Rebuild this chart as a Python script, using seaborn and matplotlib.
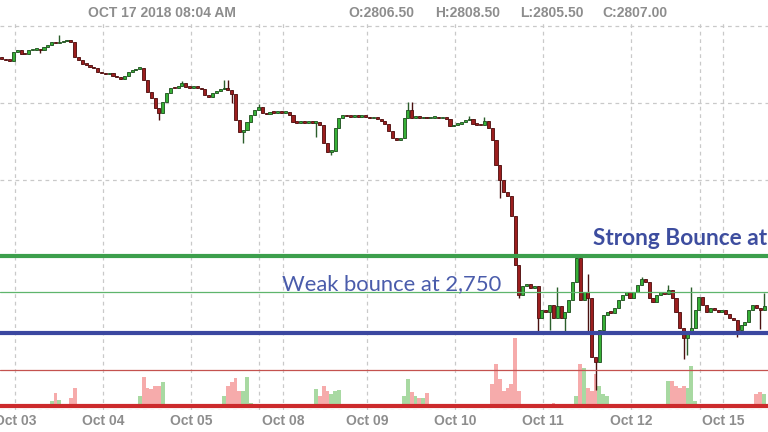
import numpy as np
import pandas as pd
import matplotlib
matplotlib.use("Agg")
import matplotlib.pyplot as plt
import seaborn as sns

# ---------------- data ----------------
header_date = "OCT 17 2018 08:04 AM"
ohlc_labels = ["O:2806.50", "H:2808.50", "L:2805.50", "C:2807.00"]

first_open = 2930.0
closes = [
    2928.5, 2927.8, 2927.2, 2933.0, 2934.3, 2931.7, 2931.5, 2934.3, 2934.5, 2935.0,
    2934.3, 2936.3, 2937.6, 2939.5, 2938.9, 2939.5, 2940.2, 2940.8, 2939.5, 2929.8,
    2927.8, 2925.2, 2924.6, 2923.3, 2922.6, 2920.0, 2919.3, 2918.7, 2919.3, 2917.4,
    2916.7, 2915.4, 2917.4, 2920.0, 2921.3, 2922.0, 2922.6, 2914.8, 2907.0, 2903.1,
    2896.5, 2893.3, 2900.5, 2906.3, 2909.6, 2909.3, 2910.9, 2912.8, 2910.2, 2909.6,
    2910.2, 2909.6, 2908.9, 2905.0, 2903.7, 2906.3, 2907.6, 2908.9, 2909.6, 2908.3,
    2905.7, 2888.7, 2880.9, 2882.2, 2887.4, 2892.0, 2895.2, 2897.2, 2893.3, 2892.6,
    2893.9, 2893.3, 2893.9, 2893.3, 2893.9, 2892.0, 2887.4, 2886.8, 2888.1, 2886.8,
    2887.4, 2886.8, 2887.4, 2885.5, 2873.7, 2867.9, 2868.5, 2883.5, 2890.0, 2892.0,
    2891.3, 2891.0, 2892.0, 2890.7, 2891.3, 2890.7, 2890.0, 2890.3, 2889.4, 2888.1,
    2886.1, 2881.6, 2877.0, 2875.7, 2877.0, 2890.0, 2895.2, 2890.0, 2891.3, 2890.0,
    2890.7, 2890.0, 2890.3, 2890.7, 2890.0, 2890.3, 2889.4, 2884.8, 2885.5, 2886.1,
    2887.4, 2888.7, 2889.4, 2886.1, 2885.5, 2885.3, 2888.1, 2883.5, 2875.7, 2859.4,
    2849.6, 2841.8, 2839.2, 2826.2, 2794.3, 2774.7, 2780.6, 2781.9, 2779.3, 2780.6,
    2759.7, 2764.9, 2763.6, 2768.2, 2759.7, 2767.5, 2759.7, 2763.6, 2771.5, 2783.2,
    2798.8, 2771.5, 2776.7, 2772.8, 2734.3, 2731.1, 2751.9, 2761.7, 2763.6, 2763.3,
    2766.2, 2771.5, 2774.7, 2776.7, 2772.8, 2776.7, 2781.2, 2785.1, 2783.2, 2772.8,
    2770.2, 2774.7, 2776.7, 2775.4, 2778.0, 2772.8, 2763.6, 2753.2, 2746.7, 2750.6,
    2753.2, 2764.9, 2773.4, 2768.2, 2763.6, 2766.2, 2764.9, 2763.6, 2764.9, 2762.3,
    2759.7, 2758.4, 2751.9, 2755.2, 2757.1, 2764.9, 2768.2, 2766.2, 2764.9, 2767.5,
]
# bars whose wick reaches beyond the body
high_wicks = {15: 2944.1, 47: 2914.1, 58: 2914.8, 59: 2914.8, 67: 2899.1,
              106: 2900.5, 107: 2900.5, 122: 2891.3, 126: 2890.7, 145: 2779.9,
              150: 2800.1, 153: 2788.4, 167: 2786.4, 174: 2781.2, 180: 2779.9,
              199: 2776.0}
low_wicks = {10: 2932.4, 41: 2888.7, 60: 2899.8, 63: 2873.7, 82: 2877.6,
             86: 2865.9, 130: 2837.9, 135: 2772.8, 140: 2751.3, 143: 2751.9,
             147: 2749.3, 153: 2751.3, 155: 2712.8, 178: 2733.0, 179: 2735.6,
             192: 2747.3, 198: 2752.6}
# volume (relative units) for bars that traded visibly
volumes = {13: 5, 14: 13, 15: 6, 16: 2, 17: 2, 18: 8, 19: 18, 20: 2,
           36: 10, 37: 29, 38: 18, 39: 17, 40: 20, 41: 20, 42: 24, 43: 2,
           58: 10, 59: 20, 60: 24, 61: 28, 62: 15, 63: 15, 64: 29, 65: 3,
           82: 17, 83: 10, 84: 20, 85: 15, 86: 12, 87: 15, 88: 16, 89: 2,
           105: 10, 106: 27, 107: 14, 108: 10, 109: 8, 110: 8, 111: 13,
           128: 22, 129: 42, 130: 27, 131: 15, 132: 18, 133: 22, 134: 68, 135: 15,
           144: 3,
           150: 10, 151: 42, 152: 38, 153: 18, 154: 15, 155: 32, 156: 20, 157: 12, 158: 10,
           174: 25, 175: 25, 176: 20, 177: 18, 178: 20, 179: 18, 180: 40, 181: 5,
           197: 12, 198: 14, 199: 12}

day_labels = ["Oct 03", "Oct 04", "Oct 05", "Oct 08", "Oct 09",
              "Oct 10", "Oct 11", "Oct 12", "Oct 15"]
level_prices = [2800.0, 2776.5, 2750.0, 2726.0, 2702.5]
strong_text = "Strong Bounce at"
weak_text = "Weak bounce at 2,750"

# ---------------- layout / style ----------------
day_pos = [3.4, 26.4, 49.4, 73.4, 95.3, 118.3, 141.3, 164.3, 188.3]
session_breaks = [67.1, 182.3]
level_colors = ["#3c9f4c", "#5fb56c", "#3b47a0", "#c4524f", "#cc2a2c"]
level_widths = [3.0, 0.9, 3.0, 0.9, 3.0]
GRAY = "#8d8d8d"

sns.set_theme(style="white")
plt.rcParams["font.family"] = ["Liberation Sans", "DejaVu Sans"]

W, H = 768, 432
fig = plt.figure(figsize=(W / 100, H / 100), dpi=100)
fig.patch.set_facecolor("white")
ax_bottom_px, ax_top_px = 410, 20
rect = [0, (H - ax_bottom_px) / H, 1, (ax_bottom_px - ax_top_px) / H]
ax = fig.add_axes(rect)
axv = ax.twinx()

n = len(closes)
idx = np.arange(n)
opens = [first_open] + closes[:-1]
up = [c >= o for o, c in zip(opens, closes)]
highs = [max(o, c, high_wicks.get(i, -np.inf)) for i, (o, c) in enumerate(zip(opens, closes))]
lows = [min(o, c, low_wicks.get(i, np.inf)) for i, (o, c) in enumerate(zip(opens, closes))]

# volume on twin axis (behind price axis)
vdf = pd.DataFrame({"bar": list(volumes.keys()), "volume": list(volumes.values())})
vdf["dir"] = ["up" if up[b] else "down" for b in vdf["bar"]]
sns.barplot(data=vdf, x="bar", y="volume", hue="dir", native_scale=True,
            palette={"up": "#a8d9a2", "down": "#f6abab"}, dodge=False,
            width=1.0, errorbar=None, legend=False, ax=axv, linewidth=0,
            saturation=1)
axv.set_ylim(-4, 386)
axv.set_yticks([])
axv.set_ylabel("")
axv.set_xlabel("")
for s in axv.spines.values():
    s.set_visible(False)
ax.set_zorder(axv.get_zorder() + 1)
ax.patch.set_visible(False)

# wicks
wick_cols = ["#2b5e2b" if u else "#4a1010" for u in up]
ax.vlines(idx, lows, highs, colors=wick_cols, linewidth=1.0, zorder=3)
# bodies
bottoms = [min(o, c) for o, c in zip(opens, closes)]
heights = [max(abs(c - o), 1.0) for o, c in zip(opens, closes)]
body_cols = ["#36b036" if u else "#9b1e1e" for u in up]
edge_cols = ["#1d4d1d" if u else "#4d0c0c" for u in up]
ax.bar(idx, heights, bottom=bottoms, width=0.8, color=body_cols,
       edgecolor=edge_cols, linewidth=0.6, zorder=4)

# horizontal levels
for p, c, lw in zip(level_prices, level_colors, level_widths):
    ax.axhline(p, color=c, linewidth=lw, zorder=5)

# axes ranges (pixel-consistent)
px0 = 1.9
dx = 3.83
ax.set_xlim(-px0 / dx, (W - px0) / dx)
axv.set_xlim(-px0 / dx, (W - px0) / dx)


def price_at(ypx):
    return 2950 - (ypx - 26) * 50 / 76.75


ax.set_ylim(price_at(ax_bottom_px), price_at(ax_top_px))

# grid
ax.set_yticks([2950, 2900, 2850, 2800, 2750, 2700])
ax.set_yticklabels([])
ax.set_xticks(day_pos)
ax.set_xticklabels(day_labels)
ax.set_xticks(session_breaks, minor=True)
ax.grid(True, which="both", color="#c9c9c9", linestyle=(0, (3, 3)), linewidth=0.9)
ax.set_axisbelow(True)
ax.tick_params(axis="both", which="both", length=0)
ax.tick_params(axis="x", pad=3, labelsize=10, labelcolor=GRAY)
for lab in ax.get_xticklabels():
    lab.set_fontweight("bold")
for s in ax.spines.values():
    s.set_visible(False)

# header
fig.text(161.5 / W, 1 - 13 / H, header_date, ha="center", va="center",
         fontsize=10, fontweight="bold", color=GRAY)
for txt, xpx in zip(ohlc_labels, [348, 435, 520, 602]):
    fig.text(xpx / W, 1 - 13 / H, txt, ha="left", va="center",
             fontsize=10, fontweight="bold", color=GRAY)

# annotations
fig.text(593 / W, 1 - 245 / H, strong_text, ha="left", va="baseline",
         fontsize=16.3, fontweight="bold", color="#3d4d9f",
         family=["Lato", "DejaVu Sans"], zorder=10)
fig.text(282 / W, 1 - 290 / H, weak_text, ha="left", va="baseline",
         fontsize=15.8, color="#4a5cab", family=["Lato", "DejaVu Sans"], zorder=10)

fig.savefig("out.png", dpi=100)
